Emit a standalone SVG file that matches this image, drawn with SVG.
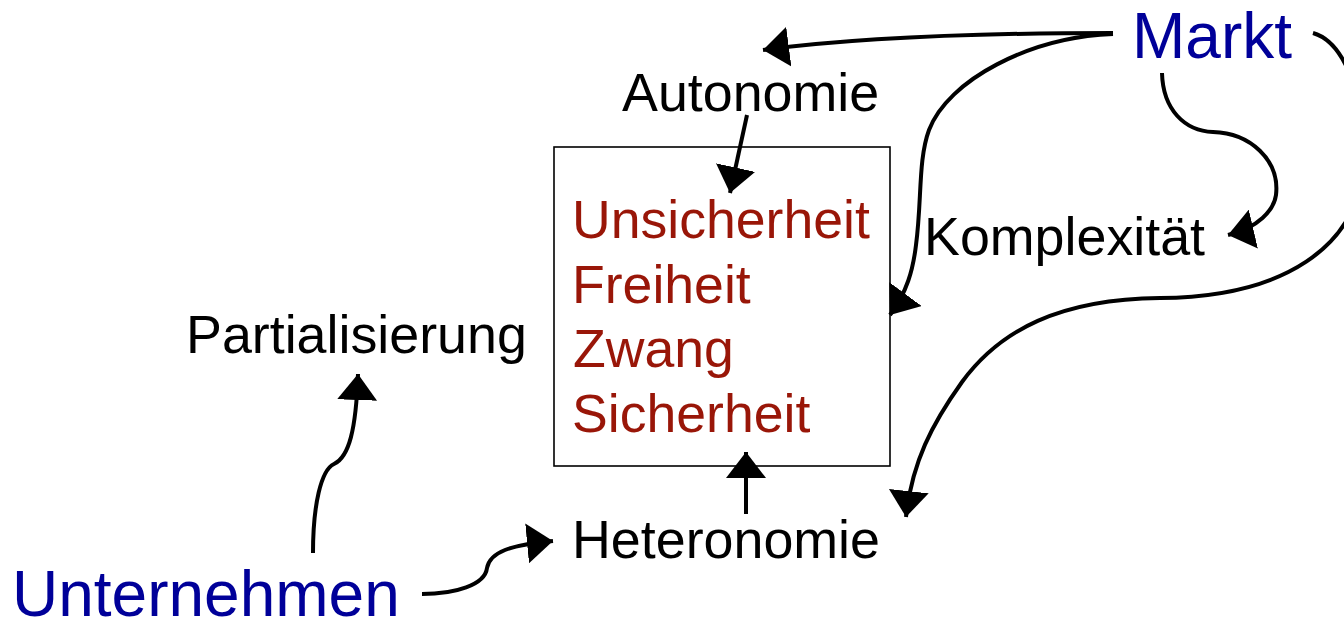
<svg xmlns="http://www.w3.org/2000/svg" width="1344" height="623" viewBox="0 0 1344 623">
  <style>
    .lbl { font-family: "Liberation Sans", Arial, sans-serif; font-size: 53.8px; fill: #000000; }
    .key { font-family: "Liberation Sans", Arial, sans-serif; font-size: 64px; fill: #000099; }
    .state { font-family: "Liberation Sans", Arial, sans-serif; font-size: 53.6px; fill: #991608; }
    .conn { fill: none; stroke: #000000; stroke-width: 4; marker-end: url(#head); }
  </style>
  <defs>
    <marker id="head" markerUnits="userSpaceOnUse" viewBox="0 0 26 40" refX="26" refY="20" markerWidth="26" markerHeight="40" orient="auto">
      <path d="M0,0 L26,20 L0,40 z" fill="#000000"/>
    </marker>
  </defs>
  <rect width="1344" height="623" fill="#ffffff"/>

  <!-- central box -->
  <g id="zustand">
    <rect x="554" y="147" width="336" height="319" fill="none" stroke="#000000" stroke-width="1.6"/>
    <text class="state" x="572" y="238">Unsicherheit</text>
    <text class="state" x="572" y="303">Freiheit</text>
    <text class="state" x="573" y="367">Zwang</text>
    <text class="state" x="572" y="432">Sicherheit</text>
  </g>

  <g id="markt"><text class="key" x="1132" y="58">Markt</text></g>
  <g id="unternehmen"><text class="key" x="12" y="616">Unternehmen</text></g>
  <g id="autonomie"><text class="lbl" x="622" y="111">Autonomie</text></g>
  <g id="komplexitaet"><text class="lbl" x="924" y="255">Komplexität</text></g>
  <g id="partialisierung"><text class="lbl" x="186" y="353">Partialisierung</text></g>
  <g id="heteronomie"><text class="lbl" x="572" y="558">Heteronomie</text></g>

  <g id="connectors">
    <!-- Markt to Autonomie -->
    <path class="conn" d="M1113,33 C1000,33 870,36 763,50"/>
    <!-- Markt to the box, right side -->
    <path class="conn" d="M1113,34 C1030,37 948,80 929,130 C918,160 922,200 916,245 C913,270 907,292 890,315"/>
    <!-- Markt to Komplexität -->
    <path class="conn" d="M1162,73 C1163,110 1185,131 1213,132 C1250,133 1280,160 1276,195 C1274,210 1258,228 1228,235"/>
    <!-- Markt around the right edge to Heteronomie -->
    <path class="conn" d="M1313,33 C1345,42 1366,100 1364,160 C1360,248 1282,297 1160,298 C1060,299 1000,330 962,382 C932,424 912,462 906,517"/>
    <!-- Autonomie into the box -->
    <path class="conn" d="M747,115 L730,193"/>
    <!-- Heteronomie into the box -->
    <path class="conn" d="M746,514 L746,452"/>
    <!-- Unternehmen to Partialisierung -->
    <path class="conn" d="M313,553 C313,505 321,470 334,464 C349,457 356,430 358,374"/>
    <!-- Unternehmen to Heteronomie -->
    <path class="conn" d="M422,594 C455,594 485,585 487,568 C490,552 510,545 553,541"/>
  </g>
</svg>
